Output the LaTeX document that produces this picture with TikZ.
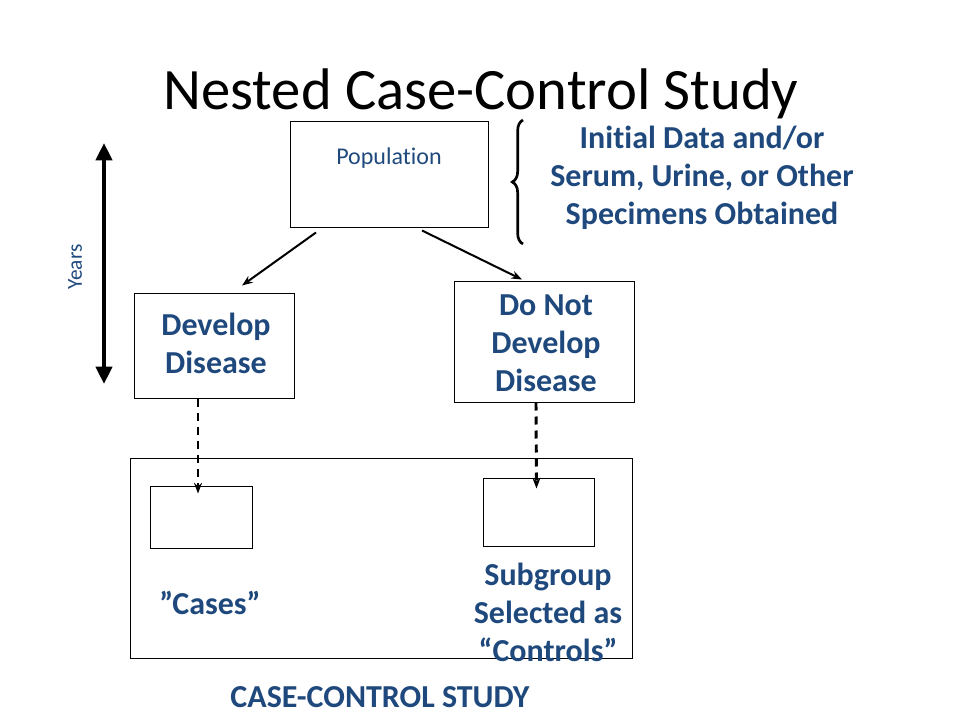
\documentclass[tikz,border=0pt]{standalone}
\usepackage{fontspec}
\setmainfont{Carlito}[RawFeature={-liga;-clig;-dlig}]
\usetikzlibrary{arrows.meta,calc,decorations.pathreplacing}
\definecolor{slideblue}{RGB}{31,73,125}

\tikzset{
  box/.style={draw, line width=0.75pt, inner sep=0pt},
  bluetext/.style={text=slideblue, font=\bfseries\fontsize{24}{28.5}\selectfont, align=center},
  arr/.style={-{Stealth[length=8pt,width=6pt]}, line width=1.5pt},
  dasharr/.style={arr, line width=2.2pt, dash pattern=on 6pt off 4.5pt}
}

\begin{document}
\begin{tikzpicture}[x=0.75pt, y=-0.75pt]
	\useasboundingbox (0,0) rectangle (960,720);

	\node[anchor=base, font=\fontsize{44}{52}\selectfont] (title) at (481,110) {Nested Case-Control Study};

	% boxes
	\node[box, minimum width=148.5pt, minimum height=79.5pt] (pop) at (389,175) {};
	\node[text=slideblue, font=\fontsize{18}{22}\selectfont] (poptext) at (389,158) {Population};
	\node[box, minimum width=120pt, minimum height=78pt] (dev) at (214,346) {};
	\node[bluetext] (devtext) at (216,343) {Develop\\Disease};
	\node[box, minimum width=135pt, minimum height=90pt] (nodev) at (544,342) {};
	\node[bluetext] (nodevtext) at (546,343) {Do Not\\Develop\\Disease};

	\node[box, minimum width=376.5pt, minimum height=150pt] (study) at (381,558) {};
	\node[box, minimum width=76.5pt, minimum height=46.5pt] (cases) at (201,517) {};
	\node[box, minimum width=83.25pt, minimum height=51pt] (controls) at (538.5,512) {};
	\node[bluetext] (casestext) at (210,603) {”Cases”};
	\node[bluetext] (controlstext) at (548,612) {Subgroup\\Selected as\\“Controls”};
	\node[bluetext] (studytext) at (380,697) {CASE-CONTROL STUDY};

	% right side note
	\node[bluetext] (note) at (702,178) {Initial Data and/or\\Serum, Urine, or Other\\Specimens Obtained};
	\coordinate (bracebot) at (523,244);
	\coordinate (bracetop) at (523,120);
	\draw[line width=2pt, decorate, decoration={brace, amplitude=8pt}] (bracebot) -- (bracetop);

	% years
	\coordinate (ytop) at (104,143);
	\coordinate (ybot) at (104,384);
	\draw[{Triangle[length=13pt,width=12pt]}-{Triangle[length=13pt,width=12pt]}, line width=3pt] (ytop) -- (ybot);
	\node[rotate=90, text=slideblue, font=\fontsize{16}{19}\selectfont] (years) at (75,267) {Years};

	% arrows
	\draw[arr] ($(pop.south)+(-73,4)$) -- ($(dev.north)+(28,-8)$);
	\draw[arr] ($(pop.south)+(33,2)$) -- ($(nodev.north)+(-22,-2)$);
	\draw[dasharr] ($(dev.south)+(-16,0)$) -- ($(cases.north)+(-3,8)$);
	\draw[dasharr] ($(nodev.south)+(-8,0)$) -- ($(controls.north)+(-2,11)$);
\end{tikzpicture}
\end{document}
